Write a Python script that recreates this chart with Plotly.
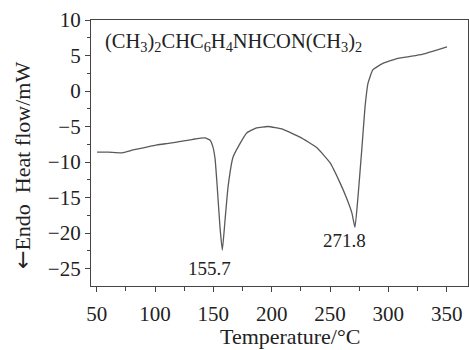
import plotly.graph_objects as go

temperature = [50.3, 60.0, 71.7, 81.1, 90.0, 101.7, 110.0, 118.8, 132.5, 142.8, 147.0, 149.5, 151.5,
               153.1, 155.7, 157.7, 160.0, 162.6, 166.9, 172.8, 178.6, 187.1, 196.8, 209.7,
               224.3, 238.8, 250.0, 258.5, 264.0, 268.8, 271.4, 274.0, 277.4, 280.0, 282.6,
               286.8, 295.4, 308.3, 320.0, 329.7, 340.0, 350.3]
heat_flow = [-8.6, -8.6, -8.7, -8.3, -8.0, -7.6, -7.4, -7.2, -6.8, -6.6, -6.9, -7.8, -9.6,
             -13.0, -19.2, -22.4, -18.2, -13.5, -9.3, -7.4, -5.9, -5.2, -5.0, -5.4,
             -6.5, -8.0, -10.1, -12.9, -15.0, -17.2, -19.2, -14.9, -7.9, -2.3, 1.1,
             3.0, 3.9, 4.6, 4.9, 5.2, 5.7, 6.2]

peak_labels = ["155.7", "271.8"]
peak_label_x = [146.5, 262.5]
peak_label_y = [-25.0, -21.1]

x_ticks = [50, 100, 150, 200, 250, 300, 350]
y_ticks = [-25, -20, -15, -10, -5, 0, 5, 10]

serif = "Liberation Serif, Times New Roman, serif"
axis_color = "#444444"
text_color = "#222222"

fig = go.Figure()
fig.add_trace(go.Scatter(x=temperature, y=heat_flow, mode="lines",
                         line=dict(color="#5a5a5a", width=1.3, shape="spline", smoothing=0.4),
                         showlegend=False, hoverinfo="skip"))

for txt, xx, yy in zip(peak_labels, peak_label_x, peak_label_y):
    fig.add_annotation(x=xx, y=yy, text=txt, showarrow=False,
                       xanchor="center", yanchor="middle",
                       font=dict(family=serif, size=19, color=text_color))

fig.add_annotation(xref="paper", yref="paper", x=0.031, y=0.914, xanchor="left", yanchor="middle",
                   text="(CH<sub>3</sub>)<sub>2</sub>CHC<sub>6</sub>H<sub>4</sub>NHCON(CH<sub>3</sub>)<sub>2</sub>",
                   showarrow=False, font=dict(family=serif, size=20.5, color=text_color))

fig.add_annotation(xref="paper", yref="paper", x=-0.183, y=0.451, textangle=-90,
                   xanchor="center", yanchor="middle",
                   text="<span style='font-family:DejaVu Sans'>←</span>Endo  Heat flow/mW",
                   showarrow=False,
                   font=dict(family=serif, size=22, color=text_color))
fig.add_annotation(xref="paper", yref="paper", x=0.529, y=-0.19,
                   xanchor="center", yanchor="middle",
                   text="Temperature/°C", showarrow=False,
                   font=dict(family=serif, size=22, color=text_color))

fig.update_layout(
    width=469, height=350,
    margin=dict(l=91, r=1, t=20, b=64, autoexpand=False),
    plot_bgcolor="white", paper_bgcolor="white",
    font=dict(family=serif, size=20, color=text_color),
)
fig.update_xaxes(range=[45.1, 368.3], tickvals=x_ticks, ticks="outside", ticklen=5,
                 tickcolor=axis_color, showline=True, linecolor=axis_color, linewidth=1.2,
                 mirror=True, showgrid=False, zeroline=False, automargin=False,
                 ticklabelstandoff=4,
                 minor=dict(dtick=25, tick0=0, ticks="outside", ticklen=4, tickcolor=axis_color),
                 tickfont=dict(family=serif, size=21))
fig.update_yaxes(range=[-27.46, 10], tickvals=y_ticks, ticks="outside", ticklen=5,
                 tickcolor=axis_color, showline=True, linecolor=axis_color, linewidth=1.2,
                 mirror=True, showgrid=False, zeroline=False, automargin=False,
                 minor=dict(dtick=2.5, tick0=0, ticks="outside", ticklen=3, tickcolor=axis_color),
                 tickfont=dict(family=serif, size=21))

fig.write_html("out.html", config={"displayModeBar": False})

with open("out.html", "r", encoding="utf-8") as f:
    html = f.read()
html = html.replace("<head>", "<head><style>html,body{margin:0;padding:0;overflow:hidden;}</style>", 1)
with open("out.html", "w", encoding="utf-8") as f:
    f.write(html)
